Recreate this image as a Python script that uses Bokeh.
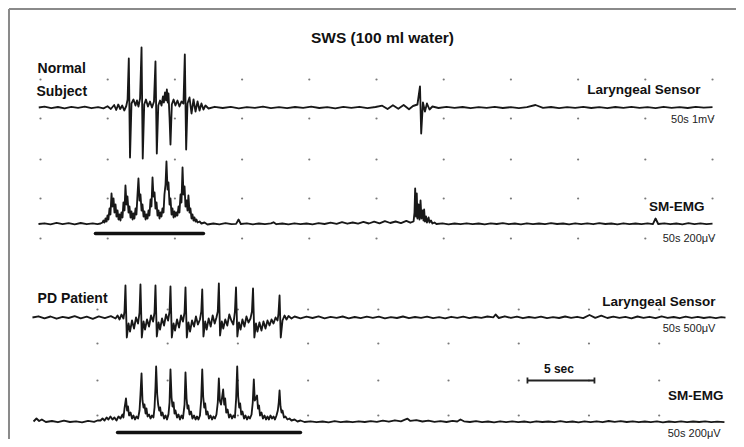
import numpy as np
from bokeh.plotting import figure
from bokeh.models import Range1d
from bokeh.core.properties import value
from bokeh.embed import file_html
from bokeh.resources import INLINE

# ---------------- data ----------------
# each trace: (time in s, deflection upward in display units)
NORMAL_LARYNGEAL = [
    (-0.13, 0), (0.3, 0.8), (0.8, -0.6), (1.3, 0.5), (1.8, -0.8), (2.3, 0.6), (2.8, -0.4), (3.3, 0.9),
    (3.8, -0.7), (4.3, 0.4), (4.7, -0.9), (5.0, 1.2), (5.25, -1.5),
    (5.5, 2.5), (5.65, -2.5), (5.8, 3), (5.95, -1.5), (6.1, 2), (6.25, -3), (6.4, 1.5), (6.5, 8),
    (6.59, 49), (6.68, -50), (6.79, 4), (6.94, 8), (7.09, 2), (7.2, 7), (7.31, 1), (7.43, 9),
    (7.54, 60), (7.63, -51), (7.74, 3), (7.87, 8), (8.02, 1), (8.17, 6), (8.32, 0), (8.47, 6),
    (8.58, 46), (8.68, -46), (8.79, 2), (8.92, 7), (9.03, 2), (9.14, 11), (9.21, 5), (9.29, 15),
    (9.37, 7), (9.43, 18), (9.5, 5), (9.55, 14), (9.63, -10),
    (9.7, -37), (9.8, 3), (9.93, 8), (10.07, 2), (10.22, 7), (10.37, 1), (10.52, 6), (10.67, 4),
    (10.77, 53), (10.87, -42), (10.97, 4), (11.12, 10), (11.27, -6), (11.42, 8), (11.57, -4),
    (11.72, 6), (11.87, -3), (12.01, 4), (12.16, -2), (12.31, 2), (12.54, -1),
    (13.0, 0.7), (13.6, -0.5), (14.2, 0.6), (14.8, -0.8), (15.4, 0.4), (16.0, -0.3), (16.6, 0.9),
    (17.2, -0.6), (17.8, 0.3), (18.4, -0.7), (19.0, 0.5), (19.6, -0.4), (20.2, 0.8), (20.8, -0.5),
    (21.4, 0.4), (22.0, -0.9), (22.6, 0.6), (23.2, -0.3), (23.8, 0.7), (24.4, -0.6), (25.0, 0.5),
    (25.5, 1.8), (25.9, -1.5), (26.3, 2.2), (26.7, -1.2), (27.1, 2.5), (27.5, -1.8), (27.8, 1.5),
    (28.13, 3), (28.32, 21), (28.41, -26), (28.54, 5), (28.69, -4), (28.84, 4), (29.03, -2), (29.25, 1),
    (29.7, -0.5), (30.3, 0.6), (30.9, -0.4), (31.5, 0.5), (32.1, -0.7), (32.7, 0.4), (33.3, -0.3),
    (33.9, 0.6), (34.5, -0.5), (35.1, 0.4), (35.7, -0.6), (36.3, 0.3), (36.94, 2.5), (37.5, -0.4),
    (38.1, 0.5), (38.7, -0.6), (39.3, 0.4), (39.9, -0.3), (40.5, 0.6), (41.1, -0.5), (41.7, 0.4),
    (42.3, -0.7), (42.9, 0.5), (43.5, -0.3), (44.1, 0.6), (44.7, -0.4), (45.3, 0.3), (45.9, -0.6),
    (46.5, 0.7), (47.1, -0.3), (47.7, 0.4), (48.3, -0.5), (48.9, 0.6), (49.5, -0.2), (50.15, 0.3),
]

NORMAL_EMG = [
    (-0.15, 0.5), (0.3, 1.2), (0.75, 0.2), (1.2, 1.6), (1.65, 0.4), (2.1, 1.3), (2.55, 0.1), (3.0, 1.5),
    (3.45, 0.3), (3.9, 1.1), (4.25, 0.4),
    (4.48, 1), (4.63, 2), (4.70, 4), (4.78, 2), (4.85, 6), (4.93, 3), (5.00, 9), (5.07, 5), (5.15, 16),
    (5.22, 10), (5.30, 31), (5.37, 18), (5.45, 26), (5.52, 12), (5.60, 20), (5.67, 8), (5.75, 14),
    (5.82, 5), (5.90, 10), (5.97, 4), (6.04, 12), (6.12, 7), (6.19, 22), (6.27, 14), (6.34, 39),
    (6.42, 20), (6.49, 28), (6.57, 12), (6.64, 18), (6.72, 7), (6.79, 13), (6.87, 5), (6.94, 11),
    (7.01, 6), (7.09, 16), (7.16, 10), (7.24, 30), (7.31, 46), (7.39, 24), (7.46, 30), (7.54, 14),
    (7.61, 20), (7.69, 8), (7.76, 13), (7.84, 5), (7.91, 10), (7.99, 6), (8.06, 14), (8.13, 9),
    (8.21, 25), (8.28, 18), (8.36, 47), (8.43, 28), (8.51, 32), (8.58, 16), (8.66, 22), (8.73, 9),
    (8.81, 14), (8.88, 6), (8.96, 12), (9.03, 8), (9.10, 16), (9.18, 12), (9.25, 30), (9.33, 40),
    (9.40, 63), (9.48, 35), (9.55, 42), (9.63, 20), (9.70, 26), (9.78, 10), (9.85, 16), (9.93, 7),
    (10.00, 13), (10.07, 8), (10.15, 12), (10.22, 9), (10.30, 18), (10.37, 12), (10.45, 30),
    (10.52, 22), (10.60, 57), (10.67, 30), (10.75, 38), (10.82, 18), (10.90, 24), (10.97, 14),
    (11.04, 29), (11.12, 12), (11.19, 16), (11.27, 6), (11.34, 10), (11.42, 4), (11.49, 7),
    (11.57, 3), (11.64, 5), (11.72, 2), (11.87, 3), (12.01, 1), (12.24, 2), (12.46, 0),
    (12.9, 1.0), (13.35, 0.2), (13.8, 1.3), (14.25, 0.3), (14.6, 0.6), (14.78, 5.0), (14.95, 0.5),
    (15.4, 1.2), (15.85, 0.2), (16.3, 1.0), (16.75, 0.4), (17.2, 1.1), (17.39, 2.2), (17.6, 0.3),
    (18.05, 1.0), (18.5, 0.2), (18.95, 1.2), (19.4, 0.4), (19.85, 1.0), (20.3, 0.2), (20.75, 1.3),
    (21.2, 0.5), (21.65, 1.8), (22.1, 0.6), (22.5, 2.4), (22.9, 0.8), (23.3, 2.0), (23.7, 0.9),
    (24.1, 2.6), (24.5, 1.0), (24.9, 2.9), (25.3, 1.2), (25.7, 3.4), (26.1, 1.5), (26.5, 3.0),
    (26.9, 1.4), (27.3, 3.6), (27.6, 1.8),
    (27.84, 3), (27.91, 12), (27.96, 36), (28.02, 8), (28.08, 31), (28.13, 6), (28.21, 20),
    (28.28, 5), (28.36, 24), (28.43, 6), (28.51, 14), (28.58, 4), (28.63, 15), (28.69, 3),
    (28.77, 8), (28.84, 2), (28.96, 7), (29.03, 2), (29.14, 4), (29.25, 1), (29.40, 2), (29.55, 0.5),
    (30.0, 1.1), (30.45, 0.2), (30.9, 1.0), (31.35, 0.3), (31.8, 1.2), (32.25, 0.4), (32.7, 1.0),
    (33.15, 0.1), (33.6, 1.1), (34.05, 0.5), (34.5, 1.3), (34.95, 0.3), (35.4, 1.0), (35.85, 0.2),
    (36.3, 1.2), (36.75, 0.4), (37.2, 1.0), (37.65, 0.3), (38.1, 1.4), (38.55, 0.5), (39.0, 1.0),
    (39.45, 0.2), (39.9, 1.2), (40.35, 0.4), (40.8, 1.1), (41.25, 0.3), (41.7, 1.3), (42.15, 0.5),
    (42.6, 1.0), (43.05, 0.2), (43.5, 1.2), (43.95, 0.4), (44.4, 1.0), (44.85, 0.3), (45.3, 1.1),
    (45.7, 0.4), (45.9, 6.0), (46.1, 0.5), (46.55, 1.2), (47.0, 0.3), (47.45, 1.0), (47.9, 0.2),
    (48.35, 1.3), (48.8, 0.4), (49.25, 1.1), (49.7, 0.3), (50.15, 0.8),
]

PD_LARYNGEAL = [
    (-0.6, 0), (-0.15, 1.2), (0.3, -0.8), (0.75, 1.0), (1.2, -1.2), (1.65, 0.6), (2.1, -0.5),
    (2.55, 1.4), (3.0, -0.9), (3.45, 0.8), (3.9, -1.3), (4.35, 1.1), (4.8, -0.6), (5.25, 1.3),
    (5.60, -1), (5.75, 2), (5.90, -2), (6.04, 3), (6.19, -1), (6.27, 6),
    (6.34, 32), (6.44, -20), (6.57, -6), (6.68, -14), (6.83, -3), (6.98, -11), (7.13, 0), (7.28, -6), (7.39, 5),
    (7.46, 33), (7.56, -20), (7.69, -4), (7.80, -12), (7.95, -2), (8.10, -9), (8.25, 2), (8.40, -4), (8.51, 5),
    (8.58, 32), (8.68, -19), (8.81, -5), (8.92, -12), (9.07, -1), (9.22, -8), (9.37, 3), (9.52, -3), (9.63, 6),
    (9.70, 31), (9.80, -20), (9.93, -6), (10.04, -13), (10.19, -2), (10.34, -10), (10.49, 2), (10.63, -4), (10.75, 5),
    (10.82, 30), (10.92, -20), (11.04, -5), (11.16, -14), (11.31, -3), (11.46, -9), (11.60, 1), (11.75, -7),
    (11.90, -2), (12.00, 6),
    (12.07, 28), (12.16, -19), (12.29, -4), (12.40, -12), (12.55, -1), (12.70, -9), (12.85, 2), (13.00, -6),
    (13.13, 0), (13.23, 6),
    (13.31, 34), (13.40, -18), (13.53, -4), (13.64, -11), (13.79, -2), (13.94, -8), (14.09, 3), (14.24, -3),
    (14.39, -7), (14.51, 6),
    (14.59, 30), (14.69, -19), (14.81, -5), (14.93, -12), (15.07, -2), (15.22, -9), (15.37, 1), (15.52, -5),
    (15.67, -1), (15.78, 6),
    (15.86, 29), (15.96, -20), (16.08, -6), (16.19, -14), (16.34, -5), (16.49, -13), (16.64, -4), (16.79, -11),
    (16.94, -3), (17.09, -8), (17.24, -2), (17.39, -6), (17.54, 0), (17.69, -3), (17.76, 4),
    (17.84, 22), (17.93, -20), (18.06, -3), (18.21, 2), (18.36, -2), (18.51, 1.5), (18.73, -1), (18.96, 1),
    (19.4, -0.8), (19.85, 0.9), (20.3, -0.5), (20.75, 1.1), (21.2, -0.9), (21.65, 0.6), (22.1, -0.4),
    (22.55, 1.0), (23.0, -0.8), (23.45, 0.5), (23.9, -0.6), (24.35, 0.9), (24.8, -0.3), (25.25, 0.8),
    (25.7, -0.9), (26.15, 0.4), (26.6, -0.5), (27.05, 1.0), (27.5, -0.7), (27.95, 0.5), (28.4, -0.4),
    (28.85, 0.9), (29.3, -0.6), (29.75, 0.3), (30.2, -0.8), (30.65, 0.7), (31.1, -0.4), (31.55, 0.9),
    (32.0, -0.6), (32.45, 0.5), (32.9, -0.3), (33.35, 1.0), (33.8, 0.2), (33.96, 3.0), (34.2, -0.5),
    (34.65, 1.2), (35.1, -0.4), (35.55, 0.8), (36.0, -0.7), (36.45, 0.5), (36.9, -0.3), (37.35, 0.9),
    (37.8, -0.6), (38.25, 0.4), (38.7, -0.5), (39.15, 1.0), (39.6, -0.4), (40.05, 0.7), (40.5, -0.6),
    (40.97, 2.5), (41.4, -0.3), (41.85, 1.8), (42.3, -0.5), (42.75, 0.9), (43.2, -0.4), (43.65, 0.6),
    (44.1, -0.8), (44.55, 1.0), (45.0, -0.3), (45.45, 0.7), (45.9, -0.6), (46.35, 1.1), (46.8, -0.4),
    (47.25, 0.5), (47.7, -0.7), (48.15, 0.8), (48.6, -0.3), (49.05, 0.6), (49.5, -0.5), (49.95, 0.4),
    (50.4, -0.6), (50.8, 0.3), (51.12, -0.2),
]

PD_EMG = [
    (-0.52, 1), (-0.3, 4), (-0.1, 1.5), (0.1, 3), (0.4, 0.5), (0.85, 1.5), (1.3, 0.3), (1.75, 1.8),
    (2.2, 0.5), (2.65, 1.2), (3.1, 0.2), (3.55, 1.6), (4.0, 0.6), (4.25, 2),
    (4.48, 2), (4.63, 4), (4.78, 2), (4.93, 5), (5.07, 3), (5.22, 6), (5.37, 3), (5.52, 5), (5.67, 2),
    (5.82, 6), (5.97, 4), (6.12, 8), (6.19, 5), (6.27, 14), (6.38, 24), (6.46, 12), (6.53, 16),
    (6.61, 7), (6.72, 10), (6.83, 4), (6.94, 7), (7.05, 3), (7.16, 6), (7.28, 4), (7.39, 12),
    (7.46, 28), (7.54, 49), (7.61, 22), (7.69, 15), (7.76, 18), (7.84, 9), (7.91, 14), (7.99, 6),
    (8.10, 8), (8.21, 4), (8.32, 7), (8.43, 5), (8.51, 15), (8.58, 35), (8.63, 56), (8.71, 28),
    (8.78, 18), (8.86, 12), (8.93, 15), (9.01, 7), (9.10, 10), (9.22, 4), (9.33, 7), (9.44, 3),
    (9.55, 8), (9.63, 20), (9.70, 53), (9.78, 25), (9.85, 16), (9.93, 20), (10.0, 9), (10.07, 12),
    (10.19, 5), (10.30, 8), (10.41, 3), (10.52, 7), (10.63, 4), (10.75, 18), (10.82, 50), (10.90, 24),
    (10.97, 14), (11.04, 17), (11.12, 8), (11.23, 11), (11.34, 4), (11.46, 7), (11.57, 3), (11.68, 6),
    (11.79, 3), (11.90, 7), (11.99, 22), (12.07, 53), (12.14, 26), (12.22, 15), (12.29, 19), (12.37, 8),
    (12.46, 11), (12.57, 4), (12.69, 7), (12.80, 3), (12.91, 6), (13.02, 4), (13.13, 8), (13.23, 20),
    (13.31, 44), (13.38, 22), (13.47, 18), (13.54, 24), (13.63, 33), (13.71, 18), (13.78, 24),
    (13.86, 10), (13.96, 13), (14.07, 5), (14.18, 8), (14.29, 4), (14.40, 7), (14.51, 5), (14.60, 24),
    (14.68, 56), (14.75, 26), (14.83, 15), (14.90, 19), (14.98, 8), (15.07, 11), (15.19, 4), (15.30, 7),
    (15.41, 3), (15.52, 6), (15.63, 4), (15.75, 8), (15.84, 20), (15.92, 43), (15.99, 22), (16.07, 24),
    (16.16, 27), (16.23, 14), (16.31, 17), (16.38, 7), (16.49, 10), (16.60, 4), (16.72, 7), (16.83, 3),
    (16.94, 6), (17.05, 3), (17.16, 7), (17.28, 4), (17.39, 6), (17.50, 3), (17.61, 7), (17.71, 12),
    (17.78, 20), (17.84, 32), (17.91, 16), (17.99, 10), (18.06, 12), (18.17, 5), (18.28, 6), (18.43, 3),
    (18.58, 4), (18.73, 2), (18.96, 3), (19.18, 1), (19.40, 2), (19.70, 0.5),
    (20.15, 1.2), (20.6, 0.3), (21.05, 1.0), (21.5, 0.2), (21.95, 1.3), (22.4, 0.4), (22.85, 1.0),
    (23.3, 0.3), (23.75, 1.2), (24.2, 0.5), (24.65, 1.4), (25.1, 0.6), (25.55, 1.8), (26.0, 0.8),
    (26.45, 2.2), (26.9, 1.2), (27.2, 2.8), (27.39, 3.8), (27.6, 1.6), (28.05, 2.4), (28.5, 1.0),
    (28.95, 1.8), (29.4, 0.6), (29.85, 1.4), (30.3, 0.5), (30.75, 1.6), (31.1, 1.0), (31.34, 3.0),
    (31.6, 1.2), (32.05, 0.5), (32.5, 1.3), (32.95, 0.3), (33.4, 1.0), (33.85, 0.2), (34.3, 1.2),
    (34.75, 0.4), (35.2, 1.1), (35.65, 0.3), (36.1, 1.0), (36.55, 0.2), (37.0, 1.2), (37.45, 0.5),
    (37.9, 1.0), (38.35, 0.3), (38.8, 1.3), (39.25, 0.4), (39.7, 1.0), (40.15, 0.2), (40.6, 1.1),
    (41.05, 0.4), (41.5, 1.2), (41.95, 0.3), (42.4, 1.5), (42.85, 0.6), (43.3, 1.4), (43.75, 0.5),
    (44.2, 1.2), (44.65, 0.3), (45.1, 1.0), (45.55, 0.4), (46.0, 1.1), (46.45, 0.2), (46.9, 1.0),
    (47.35, 0.4), (47.8, 1.2), (48.25, 0.3), (48.7, 1.0), (49.15, 0.5), (49.6, 1.1), (50.05, 0.3),
    (50.5, 0.9), (51.04, 0.4),
]

SWALLOW_NORMAL = [4.10, 12.16]   # start, end of swallow (s)
SWALLOW_PD = [5.75, 19.40]
SCALE_BAR_START = 36.34
SCALE_BAR_SEC = 5

TITLE = "SWS (100 ml water)"
SUBJECT_LABELS = ["Normal", "Subject", "PD Patient"]
CHANNEL_LABELS = ["Laryngeal Sensor", "SM-EMG", "Laryngeal Sensor", "SM-EMG"]
GAIN_LABELS = ["50s 1mV", "50s 200\u03bcV", "50s 500\u03bcV", "50s 200\u03bcV"]

# ---------------- layout ----------------
W, H = 736, 439
X0, X1 = -2.985, 51.940          # seconds across the panel
Y_TOP, Y_BOT = 0, 439            # vertical display units (downward)
BASELINES = [107, 224, 317, 422]
FRAME_T, FRAME_Y = -2.351, 8.5
TRACE_COLOR = "#181818"
FONT = value("Liberation Sans")
TY = -4.5                        # text baseline adjustment

p = figure(width=W, height=H, output_backend="svg", toolbar_location=None,
           x_range=Range1d(X0, X1), y_range=Range1d(Y_BOT, Y_TOP),
           min_border=0, min_border_left=0, min_border_right=0,
           min_border_top=0, min_border_bottom=0)
p.axis.visible = False
p.grid.visible = False
p.outline_line_color = None
p.background_fill_color = "white"
p.border_fill_color = "white"

# frame (top and left edges visible)
p.segment(x0=[FRAME_T, FRAME_T], y0=[FRAME_Y, FRAME_Y], x1=[X1, FRAME_T], y1=[FRAME_Y, Y_BOT],
          line_color="#8a8a8a", line_width=2)

# grid dots
top_cols = [k * 5.015 for k in range(11)]
top_rows = [79, 118, 159, 198, 238]
bot_cols = [4.25 + k * 5.24 for k in range(9)]
bot_rows = [309, 343, 380, 415]
dx, dy = [], []
for r in top_rows:
    for c in top_cols:
        dx.append(c); dy.append(r)
for r in bot_rows:
    for c in bot_cols:
        dx.append(c); dy.append(r)
p.scatter(dx, dy, size=2.2, color="#7a7a7a", line_color=None)

# traces
for pairs, base in zip([NORMAL_LARYNGEAL, NORMAL_EMG, PD_LARYNGEAL, PD_EMG], BASELINES):
    t, v = zip(*pairs)
    p.line(np.array(t), base - np.array(v), line_color=TRACE_COLOR, line_width=1.85,
           line_join="round")

# swallow duration bars
p.segment(x0=[SWALLOW_NORMAL[0], SWALLOW_PD[0]], y0=[233, 432],
          x1=[SWALLOW_NORMAL[1], SWALLOW_PD[1]], y1=[233, 432],
          line_color="#111111", line_width=3.5, line_cap="round")

# 5 sec scale bar
sb0, sb1 = SCALE_BAR_START, SCALE_BAR_START + SCALE_BAR_SEC
p.segment(x0=[sb0, sb0, sb1], y0=[380, 377, 377], x1=[sb1, sb0, sb1], y1=[380, 383, 383],
          line_color="#222222", line_width=1.8)

# texts
p.text(x=[25.52], y=[42 + TY - 0.5], text=[TITLE], text_font=FONT, text_font_style="bold",
       text_font_size=value("15.5px"), text_align="center", text_baseline="alphabetic",
       text_color="#111111")
p.text(x=[-0.22, -0.30, -0.22], y=[71.7 + TY, 95.2 + TY, 301.7 + TY], text=SUBJECT_LABELS,
       text_font=FONT, text_font_style="bold", text_font_size=value("14px"), text_align="left",
       text_baseline="alphabetic", text_color="#111111")
p.text(x=[49.25, 49.55, 50.37, 50.97], y=[93 + TY, 210 + TY, 305 + TY, 399.3 + TY],
       text=CHANNEL_LABELS, text_font=FONT, text_font_style="bold",
       text_font_size=value("13.5px"), text_align="right", text_baseline="alphabetic",
       text_color="#111111")
p.text(x=[50.30, 50.37, 50.37, 50.75], y=[122.5 + TY, 241.7 + TY, 331.7 + TY, 436.5 + TY],
       text=GAIN_LABELS, text_font=FONT, text_font_size=value("11px"), text_align="right",
       text_baseline="alphabetic", text_color="#222222")
p.text(x=[(sb0 + sb1) / 2 - 0.15], y=[373.3 + TY], text=["5 sec"], text_font=FONT,
       text_font_style="bold", text_font_size=value("12px"), text_align="center",
       text_baseline="alphabetic", text_color="#111111")

open("out.html", "w").write(file_html(p, INLINE))
